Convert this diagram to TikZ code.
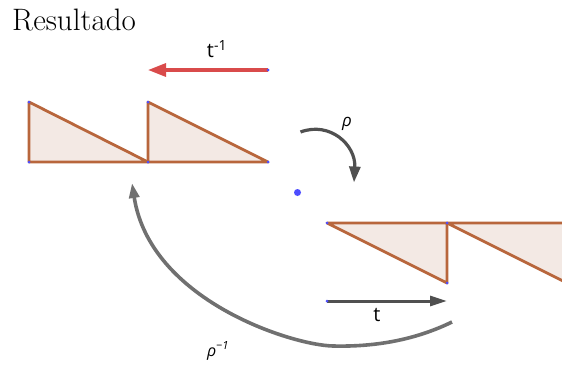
\documentclass[tikz,border=0pt]{standalone}
\usepackage{fontspec}
\setmainfont{Latin Modern Roman}
\newfontfamily\ggfont{Open Sans}
\usetikzlibrary{arrows.meta}
\definecolor{tribrown}{HTML}{B8663C}
\definecolor{trifill}{HTML}{F3E9E4}
\definecolor{redarr}{HTML}{D94B4B}
\definecolor{darkarr}{HTML}{505050}
\definecolor{grayarr}{HTML}{707070}
\definecolor{ptblue}{HTML}{4D4DFF}
\tikzset{
  tri/.style={draw=tribrown, fill=trifill, line width=2.8pt, line join=round},
  vdot/.style={circle, fill=ptblue, inner sep=0pt, minimum size=3pt},
  lbl/.style={font=\ggfont\fontsize{20}{24}\selectfont, inner sep=1pt},
  redvec/.style={draw=redarr, line width=3.2pt, -{Triangle[length=18pt,width=13pt]}},
  darkvec/.style={draw=darkarr, line width=3pt, -{Triangle[length=17pt,width=10pt]}},
  rotarr/.style={draw=darkarr, line width=3.2pt, -{Triangle[length=16pt,width=11pt]}},
  rotinv/.style={draw=grayarr, line width=3.6pt, -{Triangle[length=15pt,width=10pt]}},
}
\begin{document}
\begin{tikzpicture}[x=1pt,y=-1pt]
\useasboundingbox (0,0) rectangle (562,367);
% title
\node[anchor=base west, inner sep=0pt, font=\fontsize{31}{36}\selectfont] (title) at (12,30) {Resultado};
% top triangles
\coordinate (A1) at (29,102); \coordinate (A2) at (29,162); \coordinate (A3) at (148,162);
\coordinate (B1) at (148,102); \coordinate (B3) at (268,162);
\draw[tri] (A1) -- (A2) -- (A3) -- cycle;
\draw[tri] (B1) -- (A3) -- (B3) -- cycle;
% bottom triangles (clipped at right)
\begin{scope}
\clip (0,0) rectangle (562,367);
\coordinate (C1) at (327,223); \coordinate (C2) at (447,223); \coordinate (C3) at (447,283);
\coordinate (D2) at (567,223); \coordinate (D3) at (567,283);
\draw[tri] (C1) -- (C2) -- (C3) -- cycle;
\draw[tri] (C2) -- (D2) -- (D3) -- cycle;
\end{scope}
% vertex dots
\foreach \p in {A1,A2,A3,B1,B3,C1,C2,C3} \node[vdot] at (\p) {};
% center of rotation
\node[circle, fill=ptblue, inner sep=0pt, minimum size=7pt] (O) at (297.5,192.5) {};
% t^{-1}
\coordinate (r0) at (268,70); \coordinate (r1) at (148,70);
\draw[redvec] (r0) -- (r1);
\node[vdot] at (r0) {};
\node[lbl] (tinv) at (217,49) {t\textsuperscript{-1}};
% t
\coordinate (s0) at (327,301); \coordinate (s1) at (447,301);
\draw[darkvec] (s0) -- (s1);
\node[vdot] at (s0) {};
\node[lbl] (tl) at (377,315) {t};
% rho
\coordinate (p0) at (300.5,132); \coordinate (p1) at (354,182.5);
\draw[rotarr] (p0) .. controls (330,121) and (356,145) .. (p1);
\node[lbl, font=\ggfont\fontsize{17}{20}\selectfont] (rho) at (347,124) {\itshape ρ};
% rho^{-1}
\coordinate (q0) at (452,322); \coordinate (qm) at (333,346); \coordinate (q1) at (132,183);
\draw[rotinv] (q0) .. controls (415,340) and (375,347) .. (qm)
  .. controls (291,345) and (150,300) .. (q1);
\node[lbl, font=\ggfont\fontsize{16}{19}\selectfont] (rhoinv) at (218,351) {\itshape ρ\textsuperscript{−1}};
\end{tikzpicture}
\end{document}
